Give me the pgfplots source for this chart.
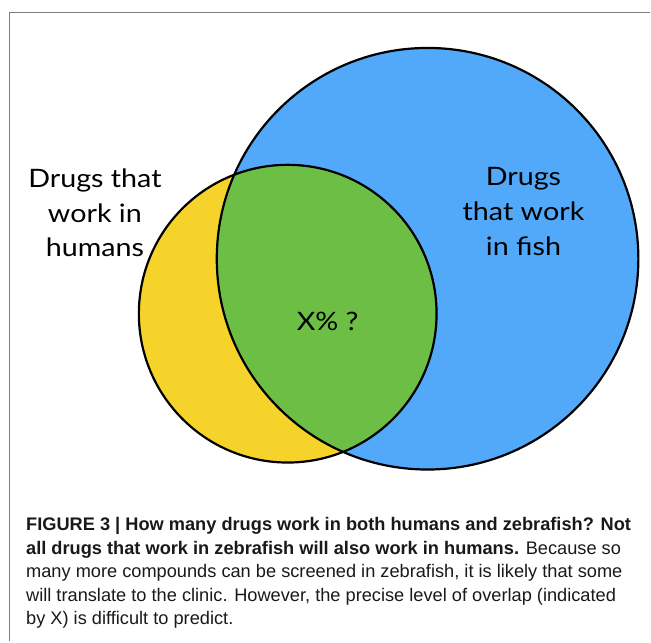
\documentclass[border=0pt]{standalone}
\usepackage{fontspec}
\setmainfont{Liberation Sans}
\newfontfamily\vennfont[FakeStretch=1.13]{Lato}
\usepackage{pgfplots}
\pgfplotsset{compat=1.18}

\definecolor{fishblue}{HTML}{52A8F9}
\definecolor{humyellow}{HTML}{F6D32B}
\definecolor{bothgreen}{HTML}{6DBE45}
\definecolor{framegray}{HTML}{7F7F7F}

% circles in pixel units: centre x, centre y, radius
\def\fx{428}\def\fy{259}\def\fr{211}
\def\hx{288}\def\hy{314}\def\hr{149}

\begin{document}
\begin{tikzpicture}
\begin{axis}[
  width=651bp, height=642bp, scale only axis,
  xmin=0, xmax=651, ymin=0, ymax=642, y dir=reverse,
  hide axis, clip=false,
]
\path (axis cs:0,0) rectangle (axis cs:651,642);
\coordinate (F) at (axis cs:\fx,\fy);
\coordinate (H) at (axis cs:\hx,\hy);
\coordinate (L1) at (axis cs:95,213);
\coordinate (L2) at (axis cs:524,212);
\coordinate (L3) at (axis cs:328,322);
\coordinate (C) at (axis cs:26,518);
\draw[framegray, line width=1.3bp] (axis cs:651,12.5) -- (axis cs:9.5,12.5) -- (axis cs:9.5,642);
\end{axis}

\fill[fishblue] (F) circle[radius=\fr bp];
\fill[humyellow] (H) circle[radius=\hr bp];
\begin{scope}
  \clip (H) circle[radius=\hr bp];
  \fill[bothgreen] (F) circle[radius=\fr bp];
\end{scope}
\draw[black, line width=2.2bp] (F) circle[radius=\fr bp];
\draw[black, line width=2.2bp] (H) circle[radius=\hr bp];

\node[align=center, font=\vennfont\fontsize{25.5}{35}\selectfont, inner sep=0] at (L1) {Drugs that\\work in\\humans};
\node[align=center, font=\vennfont\fontsize{25.5}{35}\selectfont, inner sep=0] at (L2) {Drugs\\that work\\in fish};
\node[font=\vennfont\fontsize{25.5}{30}\selectfont, inner sep=0] at (L3) {X\% ?};

\node[anchor=north west, align=left, inner sep=0, text=black!90,
      font=\fontsize{18.3}{23.5}\selectfont] at (C)
  {\textbf{FIGURE 3 | How many drugs work in both humans and zebrafish? Not}\\
   \textbf{all drugs that work in zebrafish will also work in humans.} Because so\\
   many more compounds can be screened in zebrafish, it is likely that some\\
   will translate to the clinic. However, the precise level of overlap (indicated\\
   by X) is difficult to predict.};
\end{tikzpicture}
\end{document}
